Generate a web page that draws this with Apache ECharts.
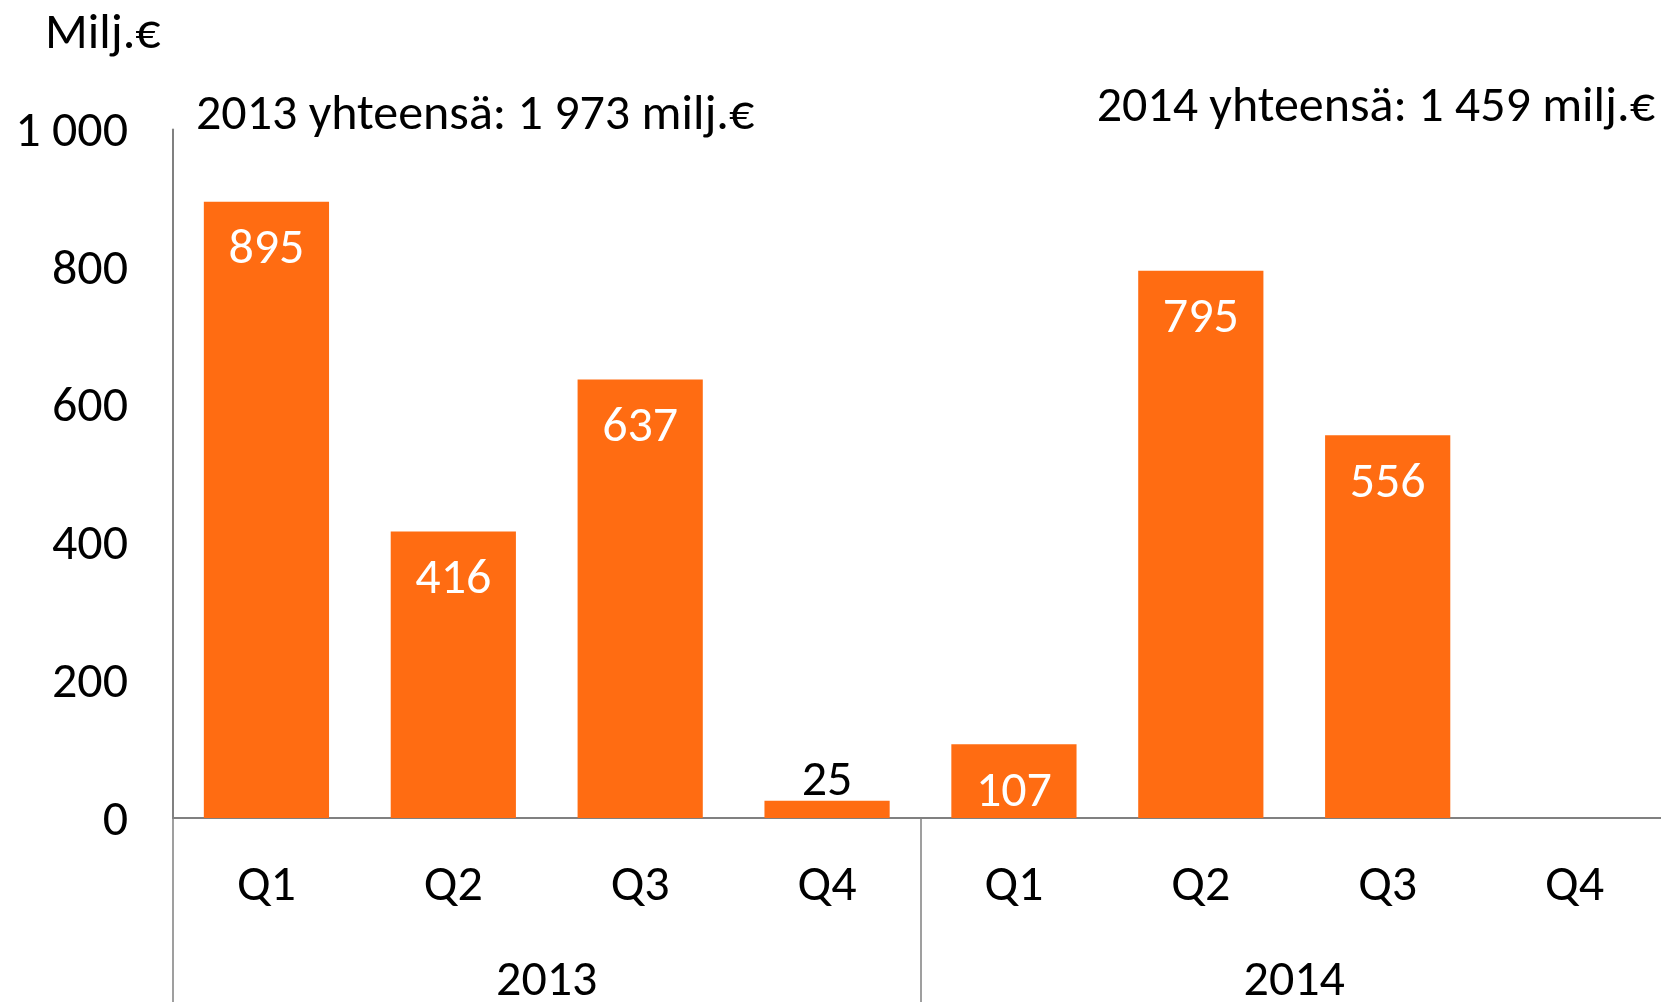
<!DOCTYPE html>
<html>
<head>
<meta charset="utf-8">
<script src="https://cdn.jsdelivr.net/npm/echarts@6/dist/echarts.min.js"></script>
<style>
  html, body { margin: 0; padding: 0; background: #fff; }
  #main { width: 1661px; height: 1002px; }
</style>
</head>
<body>
<div id="main"></div>
<script>
const quarters = ['Q1', 'Q2', 'Q3', 'Q4', 'Q1', 'Q2', 'Q3', 'Q4'];
const years = ['2013', '2014'];
const values = [895, 416, 637, 25, 107, 795, 556, null];
const yTicks = [0, 200, 400, 600, 800, 1000];
const unitLabel = 'Milj.€';
const totals = ['2013 yhteensä: 1 973 milj.€', '2014 yhteensä: 1 459 milj.€'];

const FONT = 'Carlito, "Open Sans", sans-serif';
const ORANGE = '#FF6C12';
const GRAY = '#808080';
const FS = 50;

const chart = echarts.init(document.getElementById('main'));

const fmt = v => String(v).replace(/\B(?=(\d{3})+(?!\d))/g, ' ');

// small bars get their label above the bar in black
const barData = values.map(v => {
  if (v === null) return v;
  if (v < 60) {
    return { value: v, label: { position: 'top', color: '#000', distance: -7 } };
  }
  return v;
});

const option = {
  backgroundColor: '#fff',
  animation: false,
  textStyle: { fontFamily: FONT },
  title: {
    text: unitLabel,
    left: 40,
    top: 5,
    textStyle: { fontFamily: FONT, fontSize: FS, fontWeight: 'normal', color: '#000' }
  },
  graphic: [
    {
      type: 'text', left: 196, top: 91,
      style: { text: totals[0], font: FS + 'px ' + FONT, fill: '#000' }
    },
    {
      type: 'text', right: 6, top: 83,
      style: { text: totals[1], font: FS + 'px ' + FONT, fill: '#000' }
    }
  ],
  grid: { left: 173, right: -7, top: 129.5, bottom: 184, outerBoundsMode: 'none' },
  xAxis: [
    {
      type: 'category',
      data: quarters,
      position: 'bottom',
      axisLine: { show: true, lineStyle: { color: GRAY, width: 2 } },
      axisTick: { show: false },
      axisLabel: { fontSize: FS, color: '#000', margin: 44, fontFamily: FONT }
    },
    {
      type: 'category',
      data: years,
      position: 'bottom',
      axisLine: { show: false },
      axisTick: { show: true, length: 190, lineStyle: { color: GRAY, width: 1.5 } },
      axisLabel: { fontSize: FS, color: '#000', margin: 139, fontFamily: FONT }
    }
  ],
  yAxis: {
    type: 'value',
    min: 0,
    max: 1000,
    interval: 200,
    axisLine: { show: true, lineStyle: { color: GRAY, width: 2 } },
    axisTick: { show: false },
    splitLine: { show: false },
    axisLabel: {
      fontSize: FS, color: '#000', margin: 45, fontFamily: FONT,
      formatter: v => yTicks.includes(v) ? '{v|' + fmt(v) + '}' : '',
      rich: {
        v: { fontSize: FS, fontFamily: FONT, color: '#000', padding: [8, 0, 0, 0] }
      }
    }
  },
  series: [
    {
      type: 'bar',
      xAxisIndex: 0,
      data: barData,
      barCategoryGap: '33%',
      itemStyle: { color: ORANGE },
      label: {
        show: true,
        position: 'insideTop',
        distance: 24,
        color: '#fff',
        fontSize: FS,
        fontFamily: FONT,
        formatter: p => fmt(p.value)
      }
    }
  ]
};

chart.setOption(option);
</script>
</body>
</html>
